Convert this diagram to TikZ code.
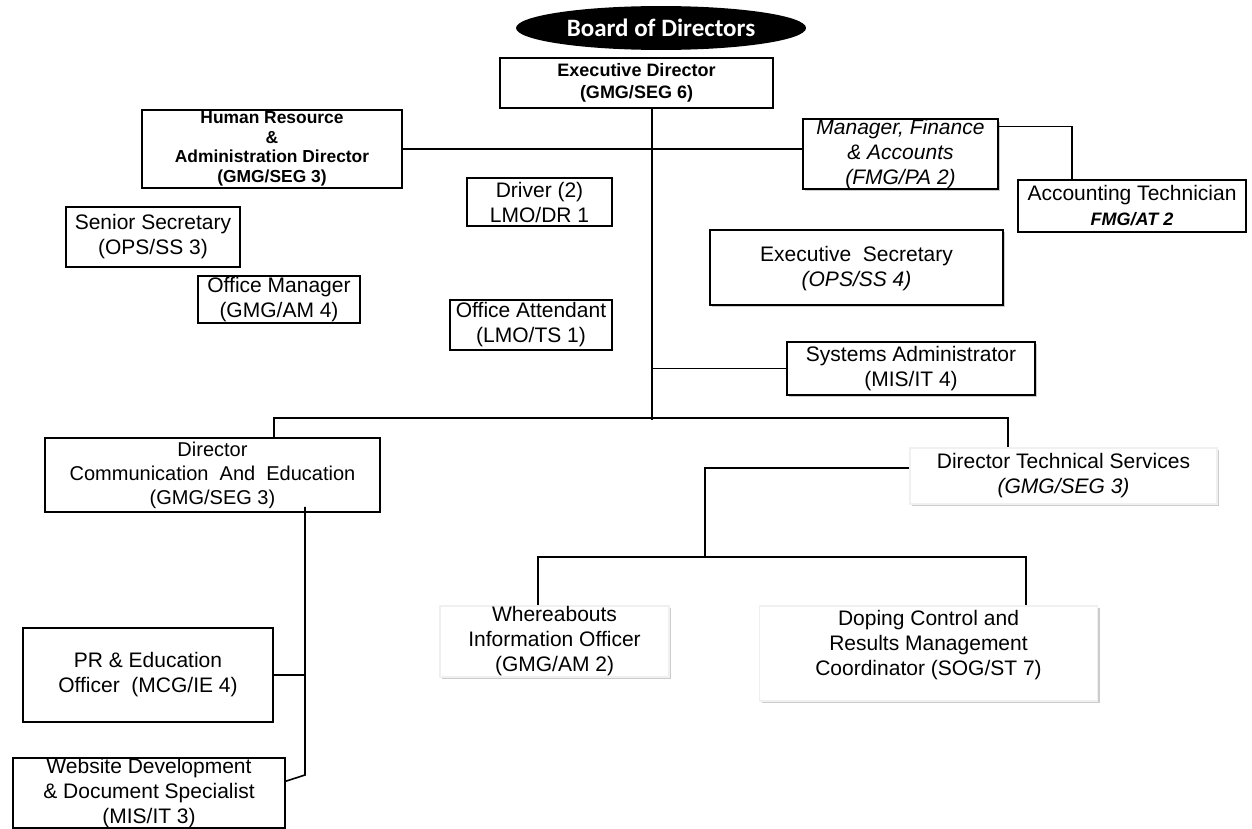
\documentclass[tikz,border=0pt]{standalone}
\usepackage{fontspec}
\setmainfont{Liberation Sans}
\newfontfamily\boardfont{Carlito}
\usetikzlibrary{shapes.geometric,shadows}
\newdimen\px \px=0.5pt

\tikzset{
  box/.style={draw, line width=0.8pt, fill=white, inner sep=0pt, align=center,
    font=\fontsize{10.5}{12.5}\selectfont},
  shbox/.style={box, drop shadow={shadow xshift=1pt, shadow yshift=-1.2pt, opacity=0.4}},
  softbox/.style={shbox, draw=black!6},
  link/.style={line width=0.8pt}
}

\begin{document}
\begin{tikzpicture}[x=0.5pt,y=-0.5pt]
  \useasboundingbox[fill=white] (0,0) rectangle (1252,829);

  \node[ellipse, fill=black, text=white, minimum width=290\px, minimum height=40\px,
    font=\boardfont\bfseries\fontsize{12.5}{14}\selectfont] (board) at (661,28) {Board of Directors};

  \node[box, minimum width=273\px, minimum height=50\px, font=\fontsize{9}{11}\selectfont\bfseries] (ed) at (636.5,83) {Executive Director\\(GMG/SEG 6)};
  \node[box, minimum width=260\px, minimum height=78\px, font=\fontsize{8.7}{9.8}\selectfont\bfseries] (hr) at (272,149) {Human Resource\\\&\\Administration Director\\(GMG/SEG 3)};
  \node[shbox, minimum width=195\px, minimum height=68\px, font=\fontsize{10.5}{12.5}\selectfont\itshape] (fin) at (900.5,154) {Manager, Finance\\\& Accounts\\(FMG/PA 2)};
  \node[box, minimum width=228\px, minimum height=52\px] (acc) at (1132,206) {Accounting Technician\\{\fontsize{9}{11}\selectfont\bfseries\itshape FMG/AT 2}};

  \node[box, minimum width=174\px, minimum height=60\px] (ss) at (153,237) {Senior Secretary\\(OPS/SS 3)};
  \node[box, minimum width=162\px, minimum height=47\px] (om) at (279,299.5) {Office Manager\\(GMG/AM 4)};
  \node[box, minimum width=145\px, minimum height=48\px] (drv) at (539.5,202) {Driver (2)\\LMO/DR 1};
  \node[box, minimum width=162\px, minimum height=50\px] (oa) at (531,325) {Office Attendant\\(LMO/TS 1)};
  \node[shbox, minimum width=293\px, minimum height=75\px] (es) at (856.5,267.5) {\mbox{}\\[-4pt]Executive\ \ Secretary\\\textit{(OPS/SS 4)}};
  \node[shbox, minimum width=248\px, minimum height=53\px] (sa) at (911,368.5) {Systems Administrator\\(MIS/IT 4)};

  \node[box, minimum width=335\px, minimum height=74\px, font=\fontsize{10}{12}\selectfont] (ce) at (212.5,475) {Director\\Communication\ \ And\ \ Education\\(GMG/SEG 3)};
  \node[softbox, minimum width=307\px, minimum height=56\px] (dts) at (1063.5,476) {Director Technical Services\\\textit{(GMG/SEG 3)}};
  \node[box, minimum width=250\px, minimum height=94\px] (pr) at (148,675) {PR \& Education\\Officer\ \ (MCG/IE 4)};
  \node[box, minimum width=272\px, minimum height=70\px] (web) at (149,793) {Website Development\\\& Document Specialist\\(MIS/IT 3)};
  \node[softbox, minimum width=229\px, minimum height=71\px] (wh) at (554.5,641.5) {Whereabouts\\Information Officer\\(GMG/AM 2)};
  \node[softbox, minimum width=338\px, minimum height=95\px] (dop) at (928.5,653.5) {Doping Control and\\Results Management\\Coordinator (SOG/ST 7)\\[-2pt]\mbox{}};

  \coordinate (tr) at (652,418);
  \coordinate (cv) at (305,775);
  \coordinate (tsj) at (705,557);

  \draw[link] (ed.south -| tr) -- ([yshift=-1pt]tr);
  \draw[link] (hr.east) -- (hr.east -| fin.west);
  \draw[link] ([yshift=-4pt]fin.north east) -| ([xshift=-30pt]acc.north);
  \draw[link] (sa.west) -- (sa.west -| tr);
  \draw[link] ([xshift=30.75pt]ce.north) |- (tr) -| ([xshift=-27.75pt]dts.north);
  \draw[link] ([xshift=46.25pt,yshift=3pt]ce.south) -- (cv) -- ([yshift=-12pt]web.north east);
  \draw[link] (pr.east) -- (pr.east -| cv);
  \draw[link] ([yshift=4pt]dts.west) -| (tsj);
  \draw[link] ([xshift=-8.25pt]wh.north) |- (tsj) -| ([xshift=48.75pt]dop.north);
\end{tikzpicture}
\end{document}
